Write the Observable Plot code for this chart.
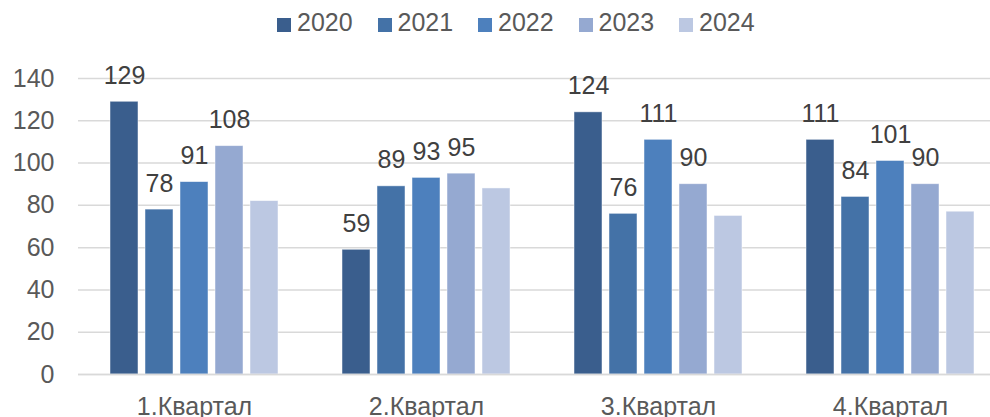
<!DOCTYPE html>
<html>
<head>
<meta charset="utf-8">
<script src="https://cdn.jsdelivr.net/npm/d3@7"></script>
<script src="https://cdn.jsdelivr.net/npm/@observablehq/plot@0.6"></script>
<style>
  html, body { margin: 0; padding: 0; background: #fff; overflow: hidden; }
  body { width: 990px; height: 417px; font-family: Arial, "Liberation Sans", sans-serif; }
  #legend { height: 45px; position: relative; }
  .item { position: absolute; top: 0; height: 45px; display: flex; align-items: center; }
  .sw { width: 14px; height: 14px; margin-right: 6px; margin-top: 4px; }
  .lt { font-size: 25px; color: #595959; line-height: 45px; }
</style>
</head>
<body>
<div id="legend"></div>
<div id="chart"></div>
<script>
const quarters = ["1.Квартал", "2.Квартал", "3.Квартал", "4.Квартал"];
const years = ["2020", "2021", "2022", "2023", "2024"];
const v2020 = [129, 59, 124, 111];
const v2021 = [78, 89, 76, 84];
const v2022 = [91, 93, 111, 101];
const v2023 = [108, 95, 90, 90];
const v2024 = [82, 88, 75, 77];
const labelled = ["2020", "2021", "2022", "2023"];
const colors = ["#3a5e8d", "#4472a7", "#4d80bd", "#95a9d1", "#bcc8e2"];
const yTicks = [0, 20, 40, 60, 80, 100, 120, 140];

const series = [v2020, v2021, v2022, v2023, v2024];
const data = [];
quarters.forEach((q, i) => {
  years.forEach((yr, j) => {
    data.push({quarter: q, year: yr, value: series[j][i]});
  });
});

// legend
const legend = document.getElementById("legend");
years.forEach((yr, j) => {
  const it = document.createElement("div");
  it.className = "item";
  it.style.left = (277 + j * 100.5) + "px";
  const sw = document.createElement("div");
  sw.className = "sw";
  sw.style.background = colors[j];
  const t = document.createElement("span");
  t.className = "lt";
  t.textContent = yr;
  it.appendChild(sw);
  it.appendChild(t);
  legend.appendChild(it);
});

const chart = Plot.plot({
  width: 990,
  height: 372,
  marginLeft: 77,
  marginRight: -17,
  marginTop: 33,
  marginBottom: 43,
  style: {fontFamily: "Arial, 'Liberation Sans', sans-serif", background: "#fff"},
  fx: {domain: quarters, padding: 0, label: null, axis: null},
  x: {domain: years, paddingInner: 0.2, paddingOuter: 0.85, axis: null},
  y: {domain: [0, 140], axis: null},
  color: {domain: years, range: colors},
  marks: [
    Plot.gridY(yTicks, {stroke: "#d9d9d9", strokeOpacity: 1, strokeWidth: 1.5}),
    Plot.axisY(yTicks, {tickSize: 0, tickPadding: 24, fontSize: 25, fill: "#595959", label: null}),
    Plot.barY(data, {fx: "quarter", x: "year", y: "value", fill: "year", stroke: "#ffffff", strokeOpacity: 0.6, strokeWidth: 0.8}),
    Plot.ruleY([0], {stroke: "#d9d9d9", strokeWidth: 1.5}),
    Plot.text(data.filter(d => labelled.includes(d.year)), {fx: "quarter", x: "year", y: "value", text: d => String(d.value), dy: -26, fontSize: 25, fill: "#404040"}),
    Plot.axisFx({anchor: "bottom", tickSize: 0, tickPadding: 23, fontSize: 25, fill: "#595959", label: null})
  ]
});
document.getElementById("chart").appendChild(chart);
</script>
</body>
</html>
